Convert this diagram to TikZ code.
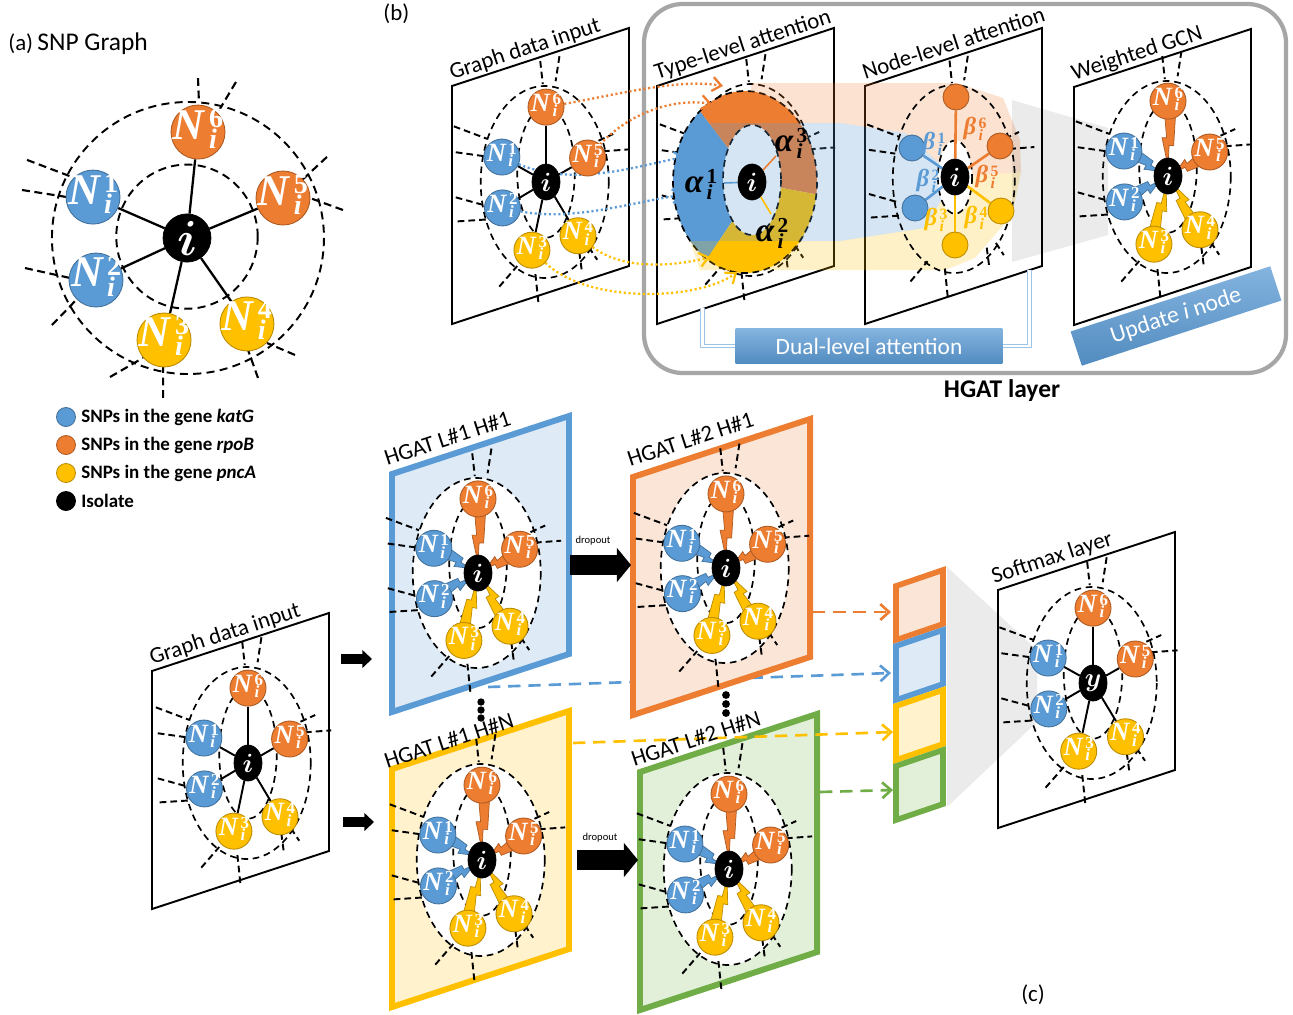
\RequirePackage{fix-cm}
\documentclass[tikz,border=0pt]{standalone}
\usepackage{graphicx}
\usepackage{fontspec}
\setmainfont{Carlito}
\setsansfont{Carlito}
\newfontfamily\idxfont{Liberation Serif}
\usetikzlibrary{calc,arrows.meta,shapes.geometric}

\definecolor{cblue}{HTML}{5B9BD5}
\definecolor{cblueD}{HTML}{41719C}
\definecolor{corange}{HTML}{ED7D31}
\definecolor{corangeD}{HTML}{AE5A21}
\definecolor{cyellow}{HTML}{FFC000}
\definecolor{cyellowD}{HTML}{BC8C00}
\definecolor{cgreen}{HTML}{70AD47}
\definecolor{lblue}{HTML}{DEEBF7}
\definecolor{lorange}{HTML}{FBE5D6}
\definecolor{lyellow}{HTML}{FFF2CC}
\definecolor{lgreen}{HTML}{E2F0D9}
\definecolor{frameg}{HTML}{A6A6A6}
\definecolor{bracketblue}{HTML}{9DC3E6}
\colorlet{blackD}{black}

\pgfdeclarelayer{panelbg}
\pgfdeclarelayer{graphbg}
\pgfdeclarelayer{edgelayer}
\pgfsetlayers{panelbg,graphbg,edgelayer,main}

% symbol with a superscript index stacked over the subscript i
\newcommand\stacklab[2]{{\itshape #1}\kern0.1em\scalebox{0.64}{\begin{tabular}{@{}l@{}}#2\\[-0.25em]\itshape i\end{tabular}}}
\newcommand\Nlab[1]{\stacklab{N}{#1}}

% neighbour positions in unit coordinates (scaled per panel)
\def\xa{-0.69}\def\ya{-0.26}
\def\xb{-0.68}\def\yb{0.27}
\def\xc{-0.22}\def\yc{0.71}
\def\xd{0.50}\def\yd{0.56}
\def\xe{0.65}\def\ye{-0.25}
\def\xf{0.0}\def\yf{-0.78}
% outer and inner dashed rings
\def\ocx{-0.02}\def\ocy{0}
\def\icx{0}\def\icy{-0.1}\def\irx{0.45}\def\iry{0.68}
% loose edges leaving the neighbours
\def\spokepath{(-0.09,-1.26)--(-0.05,-1.02) (0.21,-1.31)--(0.15,-1.05)
 (0.82,-0.43)--(1.05,-0.5) (0.89,-0.32)--(1.3,-0.34)
 (-1.44,-0.58)--(-0.92,-0.45) (-1.41,-0.31)--(-0.98,-0.27)
 (-1.41,0.16)--(-0.92,0.25) (-1.38,0.41)--(-0.92,0.39)
 (-0.73,1.09)--(-0.45,0.875) (-0.12,1.25)--(-0.17,0.93)
 (0.52,0.73)--(0.56,0.93) (0.67,0.68)--(0.8,0.81)}

% slanted panel: left x, top-left y, style
\newcommand\panelframe[3]{%
  \begin{pgfonlayer}{panelbg}
    \draw[#3] (#1,#2) -- ++(177,-58) -- ++(0,238) -- ++(-177,58) -- cycle;
  \end{pgfonlayer}}

% dashed rings and loose edges: cx, cy, sx, sy, fill options
\newcommand\graphbase[5]{%
  \begin{scope}[shift={(#1,#2)}, xscale=#3, yscale=#4]
    \begin{pgfonlayer}{graphbg}
      \path[#5] (\ocx,\ocy) circle (1);
      \draw[ring] (\ocx,\ocy) circle (1);
      \draw[ring] (\icx,\icy) ellipse ({\irx} and {\iry});
      \draw[spoke] \spokepath;
    \end{pgfonlayer}
  \end{scope}}

% isolate and its six SNP neighbours: prefix, cx, cy, sx, sy, centre label
\newcommand\graphnodes[6]{%
  \begin{scope}[shift={(#2,#3)}, xscale=#4, yscale=#5]
    \node[hub] (#1i) at (0,0) {$#6$};
    \node[snp=cblue, label={[snplab]center:\Nlab{1}}] (#1n1) at (\xa,\ya) {};
    \node[snp=cblue, label={[snplab]center:\Nlab{2}}] (#1n2) at (\xb,\yb) {};
    \node[snp=cyellow, label={[snplab]center:\Nlab{3}}] (#1n3) at (\xc,\yc) {};
    \node[snp=cyellow, label={[snplab]center:\Nlab{4}}] (#1n4) at (\xd,\yd) {};
    \node[snp=corange, label={[snplab]center:\Nlab{5}}] (#1n5) at (\xe,\ye) {};
    \node[snp=corange, label={[snplab]center:\Nlab{6}}] (#1n6) at (\xf,\yf) {};
  \end{scope}}

\newcommand\lineedges[1]{%
  \begin{pgfonlayer}{edgelayer}
    \foreach \k in {1,...,6}{\draw[graphedge] (#1i) -- (#1n\k);}
  \end{pgfonlayer}}

% lightning-shaped weighted edge from a neighbour to the isolate: from, to, colour
\newcommand\bolt[3]{%
  \coordinate (bS) at ($(#1)!9pt!(#2)$);
  \coordinate (bT) at ($(#2)!5.5pt!(#1)$);
  \filldraw[fill=#3, draw=#3D, line width=0.4pt, line join=miter]
    ($(bS)!0!(bT)!4.2pt!90:(bT)$) -- ($(bS)!0.58!(bT)!3.2pt!90:(bT)$)
    -- ($(bS)!0.58!(bT)!0.6pt!90:(bT)$) -- (bT)
    -- ($(bS)!0.42!(bT)!3.4pt!-90:(bT)$) -- ($(bS)!0.42!(bT)!0.8pt!-90:(bT)$)
    -- ($(bS)!0!(bT)!1.8pt!-90:(bT)$) -- cycle;}

\newcommand\boltedges[1]{%
  \begin{pgfonlayer}{edgelayer}
    \bolt{#1n1}{#1i}{cblue}\bolt{#1n2}{#1i}{cblue}
    \bolt{#1n3}{#1i}{cyellow}\bolt{#1n4}{#1i}{cyellow}
    \bolt{#1n5}{#1i}{corange}\bolt{#1n6}{#1i}{corange}
  \end{pgfonlayer}}

\begin{document}
\begin{tikzpicture}[x=0.02cm, y=-0.02cm,
  ring/.style={draw=black, line width=0.95pt, dash pattern=on 3.8pt off 2.7pt},
  spoke/.style={draw=black, line width=1.1pt, dash pattern=on 3.8pt off 2.3pt},
  snpsize/.style={minimum size=0.72cm},
  snplab/.style={text=white, inner sep=0pt, font=\idxfont\bfseries\fontsize{15}{15}\selectfont},
  hubsize/.style={minimum width=0.56cm, minimum height=0.72cm, font=\boldmath\fontsize{15}{15}\selectfont},
  snp/.style={circle, fill=#1, draw=#1D, line width=0.5pt, inner sep=0pt, snpsize},
  hub/.style={ellipse, fill=black, draw=black, inner sep=0pt, text=white, hubsize},
  attdot/.style={circle, fill=#1, draw=#1D, line width=0.5pt, inner sep=0pt, minimum size=0.52cm},
  graphedge/.style={draw=black, line width=1.1pt},
  betaedge/.style={draw=#1, line width=1.5pt},
  betalabel/.style={text=#1, inner sep=0pt, font=\idxfont\bfseries\fontsize{14}{14}\selectfont},
  alphalabel/.style={text=black, inner sep=0pt, font=\idxfont\bfseries\fontsize{19}{19}\selectfont},
  plabel/.style={anchor=base west, rotate=18.1, inner sep=0pt, font=\fontsize{13}{13}\selectfont},
  panel/.style={draw=black, line width=1.1pt, fill=white, line join=miter},
  hpanel/.style 2 args={draw=#1, fill=#2, line width=3.4pt, line join=miter},
  dotarrow/.style={draw=#1, line width=1.3pt, dash pattern=on 1.2pt off 1.5pt, -{Straight Barb[length=5pt,width=8pt]}},
  dasharrow/.style={draw=#1, line width=1.5pt, dash pattern=on 7pt off 4.5pt, -{Straight Barb[length=5pt,width=9pt]}},
  bluebox/.style={top color=cblue!75!white, bottom color=cblue!90!black, draw=none, text=white, inner sep=0pt, font=\fontsize{13.3}{14}\selectfont},
  bracket/.style={draw=bracketblue, double=white, double distance=1.3pt, line width=0.7pt},
  legdot/.style={circle, fill=#1, draw=#1D, line width=0.5pt, inner sep=0pt, minimum size=0.38cm},
  legtext/.style={anchor=west, inner sep=0pt, font=\bfseries\fontsize{10.8}{12}\selectfont},
]
\useasboundingbox (0,0) rectangle (1293,1014);
\begin{pgfonlayer}{panelbg}
  \fill[white] (0,0) rectangle (1293,1014);
  \draw[frameg, line width=2.4pt, rounded corners=22pt] (644,4) rectangle (1286,373);
\end{pgfonlayer}

% ---------------- (a) SNP graph ----------------
\node[anchor=base west, inner sep=0pt, font=\fontsize{13}{13}\selectfont] (tag-a) at (8,50) {(a)};
\node[anchor=base west, inner sep=0pt, font=\fontsize{14.5}{14.5}\selectfont] (title-a) at (37,50) {SNP Graph};
\begin{scope}[snpsize/.style={minimum size=1.08cm},
              snplab/.style={text=white, inner sep=0pt, font=\idxfont\bfseries\fontsize{25}{25}\selectfont},
              hubsize/.style={minimum width=0.96cm, minimum height=0.96cm, font=\boldmath\fontsize{28}{28}\selectfont},
              ring/.style={draw=black, line width=1.1pt, dash pattern=on 4.6pt off 3pt},
              spoke/.style={draw=black, line width=1.2pt, dash pattern=on 4.5pt off 2.6pt},
              graphedge/.style={draw=black, line width=1.3pt}]
  \def\xa{-0.691}\def\ya{-0.301}
  \def\xb{-0.669}\def\yb{0.309}
  \def\xc{-0.169}\def\yc{0.75}
  \def\xd{0.441}\def\yd{0.632}
  \def\xe{0.706}\def\ye{-0.294}
  \def\xf{0.081}\def\yf{-0.779}
  \def\ocx{0.007}\def\ocy{0}
  \def\icx{0}\def\icy{-0.01}\def\irx{0.52}\def\iry{0.53}
  \def\spokepath{(0.081,-1.176)--(0.088,-0.993) (0.360,-1.147)--(0.228,-0.926)
   (1.029,-0.596)--(0.846,-0.426) (1.147,-0.206)--(0.904,-0.294)
   (-1.176,-0.574)--(-0.846,-0.449) (-1.213,-0.353)--(-0.882,-0.301)
   (-1.191,0.221)--(-0.860,0.294) (-0.993,0.640)--(-0.801,0.441)
   (-0.566,1.022)--(-0.324,0.882) (-0.176,1.176)--(-0.176,0.949)
   (0.794,0.860)--(0.588,0.772) (0.522,1.029)--(0.449,0.824)}
  \graphbase{187}{238}{136}{136}{fill=none}
  \graphnodes{a-}{187}{238}{136}{136}{i}
  \lineedges{a-}
\end{scope}

% legend
\node[legdot=cblue] (leg1) at (66,417) {};
\node[legtext] (leg1t) at (81,417) {SNPs in the gene \textit{katG}};
\node[legdot=corange] (leg2) at (66,445) {};
\node[legtext] (leg2t) at (81,445) {SNPs in the gene \textit{rpoB}};
\node[legdot=cyellow] (leg3) at (66,473) {};
\node[legtext] (leg3t) at (81,473) {SNPs in the gene \textit{pncA}};
\node[legdot=black] (leg4) at (66,501) {};
\node[legtext] (leg4t) at (81,501) {Isolate};

% ---------------- (b) HGAT layer ----------------
\node[anchor=base west, inner sep=0pt, font=\fontsize{13}{13}\selectfont] (tag-b) at (383,20) {(b)};
\node[font=\bfseries\fontsize{14.5}{14.5}\selectfont, inner sep=0pt] (hgat-title) at (1002,391) {HGAT layer};

\panelframe{452}{86}{panel}
\node[plabel] (lab-gb) at (452,80) {Graph data input};
\panelframe{657}{86}{panel}
\node[plabel] (lab-tl) at (657,80) {Type-level attention};
\panelframe{865}{86}{panel}
\node[plabel] (lab-nl) at (865,80) {Node-level attention};
\panelframe{1074}{87}{panel}
\node[plabel] (lab-gw) at (1074,81) {Weighted GCN};

% graph data input
\graphbase{546}{182}{64}{96}{fill=none}
\graphnodes{gb-}{546}{182}{64}{96}{i}
\lineedges{gb-}

% type-level attention: ring split by SNP type
\graphbase{752}{180}{64}{96}{fill=none}
\begin{pgfonlayer}{graphbg}
  \begin{scope}
    \clip (745,182) ellipse (72 and 91);
    \fill[cblue] (728,148) -- (653,49) -- (600,49) -- (600,338) -- (654,338) -- (735,217) -- cycle;
    \fill[corange] (728,148) -- (653,49) -- (900,49) -- (900,210) -- (782,188) -- cycle;
    \fill[cyellow] (782,188) -- (900,210) -- (900,340) -- (654,338) -- (735,217) -- cycle;
  \end{scope}
  \fill[white] (752,180) ellipse (29 and 55);
  \draw[ring] (745,182) ellipse (72 and 91);
  \draw[ring] (752,180) ellipse (29 and 55);
  % attention bands towards the node-level view
  \fill[corange, opacity=0.22] (752,83) -- (957,83) -- (1003,98) -- (1020,140) -- (1021,172) -- (955,177) -- (905,133) -- (840,123) -- (745,123) -- cycle;
  \fill[cblue, opacity=0.25] (690,123) -- (840,123) -- (905,133) -- (955,177) -- (925,228) -- (840,241) -- (690,241) -- cycle;
  \fill[cyellow, opacity=0.22] (690,241) -- (840,241) -- (925,228) -- (955,177) -- (1021,172) -- (1012,215) -- (975,258) -- (945,270) -- (700,270) -- cycle;
  \fill[black, opacity=0.08] (1012,100) -- (1108,128) -- (1108,235) -- (1012,262) -- cycle;
  \fill[white] (955,177) ellipse (17 and 37);
\end{pgfonlayer}
\node[hub] (tl-i) at (752,182) {$i$};
\coordinate (tl-b) at (724,183);
\coordinate (tl-o) at (776,156);
\coordinate (tl-y) at (771,214);
\begin{pgfonlayer}{edgelayer}
  \draw[cblue, line width=0.9pt] (tl-i) -- (tl-b);
  \draw[corange, line width=0.9pt] (tl-i) -- (tl-o);
  \draw[cyellow, line width=0.9pt] (tl-i) -- (tl-y);
\end{pgfonlayer}
\node[alphalabel] (al1) at (701,187) {\stacklab{α}{1}};
\node[alphalabel] (al3) at (791,146) {\stacklab{α}{3}};
\node[alphalabel] (al2) at (772,236) {\stacklab{α}{2}};

% inputs routed into the type-level ring
\coordinate (ta-o1) at (723,86);
\coordinate (ta-o2) at (712,104);
\coordinate (ta-b1) at (685,157);
\coordinate (ta-b2) at (683,195);
\coordinate (ta-y1) at (710,257);
\coordinate (ta-y2) at (737,272);
\begin{pgfonlayer}{edgelayer}
  \draw[dotarrow=corange] (gb-n6) .. controls (615,95) and (680,78) .. (ta-o1);
  \draw[dotarrow=corange] (gb-n5) .. controls (630,112) and (675,98) .. (ta-o2);
  \draw[dotarrow=cblue] (gb-n1) .. controls (575,188) and (640,165) .. (ta-b1);
  \draw[dotarrow=cblue] (gb-n2) .. controls (575,222) and (640,200) .. (ta-b2);
  \draw[dotarrow=cyellow] (gb-n4) .. controls (625,272) and (680,265) .. (ta-y1);
  \draw[dotarrow=cyellow] (gb-n3) .. controls (590,305) and (700,300) .. (ta-y2);
\end{pgfonlayer}

% node-level attention
\begin{scope}
  \def\icx{0}\def\icy{-0.02}\def\irx{0.28}\def\iry{0.39}
  \graphbase{955}{179}{61}{94}{fill=none}
\end{scope}
\node[hub] (nl-i) at (955,177) {$i$};
\node[attdot=corange] (nl-6) at (956,97) {};
\node[attdot=corange] (nl-5) at (1000,146) {};
\node[attdot=cblue] (nl-1) at (912,148) {};
\node[attdot=cblue] (nl-2) at (915,208) {};
\node[attdot=cyellow] (nl-4) at (1001,211) {};
\node[attdot=cyellow] (nl-3) at (955,245) {};
\begin{pgfonlayer}{edgelayer}
  \draw[betaedge=corange] (nl-6) -- (nl-i);
  \draw[betaedge=corange] (nl-5) -- (nl-i);
  \draw[betaedge=cblue] (nl-1) -- (nl-i);
  \draw[betaedge=cblue] (nl-2) -- (nl-i);
  \draw[betaedge=cyellow] (nl-4) -- (nl-i);
  \draw[betaedge=cyellow] (nl-3) -- (nl-i);
\end{pgfonlayer}
\node[betalabel=corange] (be6) at (975,131) {\stacklab{β}{6}};
\node[betalabel=cblue] (be1) at (934,146) {\stacklab{β}{1}};
\node[betalabel=cblue] (be2) at (928,183) {\stacklab{β}{2}};
\node[betalabel=corange] (be5) at (987,179) {\stacklab{β}{5}};
\node[betalabel=cyellow] (be3) at (936,222) {\stacklab{β}{3}};
\node[betalabel=cyellow] (be4) at (976,220) {\stacklab{β}{4}};

% weighted GCN
\graphbase{1168}{177}{64}{96}{fill=none}
\graphnodes{gw-}{1168}{176}{64}{96}{i}
\boltedges{gw-}

% dual-level attention and update boxes
\node[bluebox, minimum width=5.34cm, minimum height=0.7cm] (dual) at (869,346) {Dual-level attention};
\coordinate (tl-foot) at (702.5,308);
\coordinate (nl-foot) at (1029.6,270);
\begin{pgfonlayer}{edgelayer}
  \draw[bracket] (tl-foot) |- (dual.west);
  \draw[bracket] (nl-foot) |- (dual.east);
\end{pgfonlayer}
\node[bluebox, rotate=18.1, minimum width=4.2cm, minimum height=0.72cm, font=\fontsize{13.5}{14}\selectfont] (upd) at (1176,316) {Update \textit{i} node};

% ---------------- (c) stacked HGAT layers ----------------
\node[font=\fontsize{13}{13}\selectfont, inner sep=0pt] (tag-c) at (1033,995) {(c)};

\panelframe{152}{671}{panel}
\node[plabel] (lab-gc) at (152,665) {Graph data input};
\graphbase{248}{763}{64}{96}{fill=none}
\graphnodes{gc-}{248}{763}{64}{96}{i}
\lineedges{gc-}

\panelframe{392}{474}{hpanel={cblue}{lblue}}
\node[plabel] (lab-h11) at (387,466) {HGAT L\#1 H\#1};
\graphbase{478}{573}{64}{95}{fill=white}
\graphnodes{h11-}{478}{573}{64}{95}{i}
\boltedges{h11-}

% head 1 of layer 1 feeds the output stack (passes behind layer 2)
\coordinate (h11-out) at (488,687);
\coordinate (st1) at (891,673);
\begin{pgfonlayer}{panelbg}
  \draw[dasharrow=cblue] (h11-out) -- (st1);
\end{pgfonlayer}

\panelframe{633}{477}{hpanel={corange}{lorange}}
\node[plabel] (lab-h21) at (630,467) {HGAT L\#2 H\#1};
\graphbase{726}{568}{64}{95}{fill=white}
\graphnodes{h21-}{726}{568}{64}{95}{i}
\boltedges{h21-}

\panelframe{392}{769}{hpanel={cyellow}{lyellow}}
\node[plabel] (lab-h1n) at (387,769) {HGAT L\#1 H\#N};
\graphbase{482}{860}{64}{96}{fill=white}
\graphnodes{h1n-}{482}{860}{64}{96}{i}
\boltedges{h1n-}

\panelframe{640}{772}{hpanel={cgreen}{lgreen}}
\node[plabel] (lab-h2n) at (634,767) {HGAT L\#2 H\#N};
\graphbase{729}{869}{64}{96}{fill=white}
\graphnodes{h2n-}{729}{869}{64}{96}{i}
\boltedges{h2n-}

\panelframe{998}{590}{panel}
\node[plabel] (lab-sm) at (994,584) {Softmax layer};
\begin{pgfonlayer}{graphbg}
  \fill[black, opacity=0.08] (947,567) -- (1037,650) -- (1037,722) -- (947,807) -- cycle;
\end{pgfonlayer}
\graphbase{1093}{683}{65}{96}{fill=none}
\graphnodes{sm-}{1093}{683}{65}{96}{y}
\lineedges{sm-}

% input arrows and dropout arrows
\coordinate (ba1s) at (341,659); \coordinate (ba1e) at (372,659);
\coordinate (ba2s) at (343,822); \coordinate (ba2e) at (374,822);
\draw[line width=5.6pt, -{Triangle[length=5.5pt,width=10pt]}] (ba1s) -- (ba1e);
\draw[line width=5.6pt, -{Triangle[length=5.5pt,width=10pt]}] (ba2s) -- (ba2e);
\coordinate (dr1s) at (570,565); \coordinate (dr1e) at (631,565);
\coordinate (dr2s) at (577,860); \coordinate (dr2e) at (638,860);
\draw[line width=11pt, -{Triangle[length=8pt,width=19pt]}] (dr1s) -- (dr1e);
\draw[line width=11pt, -{Triangle[length=8pt,width=19pt]}] (dr2s) -- (dr2e);
\node[font=\fontsize{6}{6}\selectfont, inner sep=0pt] (do1) at (593,541) {dropout};
\node[font=\fontsize{6}{6}\selectfont, inner sep=0pt] (do2) at (600,838) {dropout};

% vertical ellipses between heads
\foreach \yy in {702,710,718}{\fill (481,\yy) circle (3.7);}
\foreach \yy in {695,704,713}{\fill (726,\yy) circle (3.9);}

% concatenated head outputs
\begin{pgfonlayer}{panelbg}
  \foreach \k/\c/\l in {0/corange/lorange, 1/cblue/lblue, 2/cyellow/lyellow, 3/cgreen/lgreen}{
    \draw[draw=\c, fill=\l, line width=3.2pt, line join=miter]
      (896,586+60*\k) -- (943,570+60*\k) -- (943,624+60*\k) -- (896,640+60*\k) -- cycle;}
\end{pgfonlayer}
\coordinate (h21-out) at (813,612);
\coordinate (st0) at (891,612);
\coordinate (h1n-out) at (573,743);
\coordinate (st2) at (893,732);
\coordinate (h2n-out) at (820,792);
\coordinate (st3) at (893,790);
\begin{pgfonlayer}{edgelayer}
  \draw[dasharrow=corange] (h21-out) -- (st0);
  \draw[dasharrow=cyellow] (h1n-out) -- (st2);
  \draw[dasharrow=cgreen] (h2n-out) -- (st3);
\end{pgfonlayer}
\end{tikzpicture}
\end{document}
